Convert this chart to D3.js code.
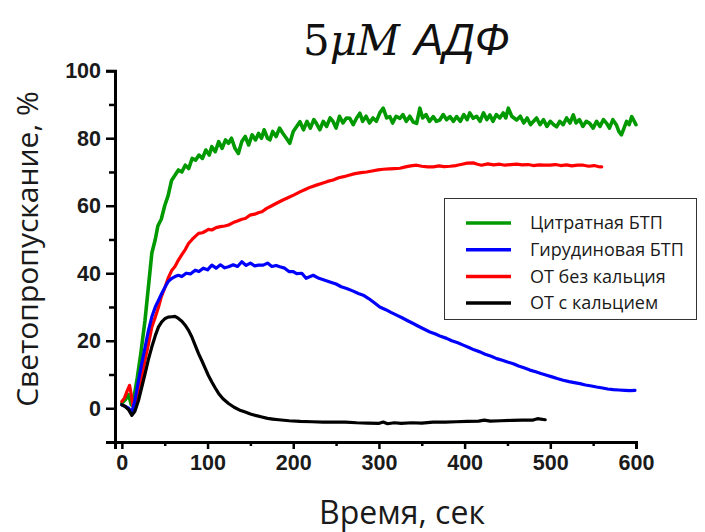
<!DOCTYPE html>
<html>
<head>
<meta charset="utf-8">
<script src="https://cdn.jsdelivr.net/npm/d3@7"></script>
<style>
  html, body { margin: 0; padding: 0; background: #fff; }
  svg { display: block; }
</style>
</head>
<body>
<svg id="chart" width="705" height="532"></svg>
<script>
// Light transmission traces after 5 µM ADP, time in seconds vs transmission in %
const seriesNames = ["Цитратная БТП", "Гирудиновая БТП", "ОТ без кальция", "ОТ с кальцием"];
const seriesColors = ["#009a00", "#0000ff", "#ff0000", "#000000"];

const citrateBTP = [
  [0,1.5],[4,2.5],[8,4],[11,1],[14,3],[18,9],[22,16],[27,26],[31,36],[35,46],[39,50],[42,54],[46,56],[50,60],[54,63],[58,67.5],[62,69],[66,70.6],[70,70],[74,72],[78,71],[82,74],[86,73.5],[90,75],[94,74],[98,76.5],[102,75],[105,77.5],[109,76],[113,79],[117,77],[121,79.5],[124.5,78.5],[128,80],[132,77],[136,75.5],[140,79],[144,80.5],[148,78],[152,81],[156,79.5],[159.5,81.4],[163,80],[166,82.5],[170,80],[172.8,79.5],[176,82],[180,80.5],[184,83],[188,81.4],[192,80],[196,78.5],[200,82],[204,83.5],[207.8,84.9],[212,82.5],[216,85],[220,83],[224,85.5],[227,84.4],[231,82.5],[235,85],[239,83.5],[243,86],[246.6,84.9],[250,83],[254,86.5],[258,84.5],[262,86],[266,85.9],[270,84],[274,86],[277.8,87.4],[281,85],[285,86.5],[289,84.5],[293,86],[297,85],[301,87.5],[305,88.9],[309,86],[312.8,86.4],[316,84.5],[320,86.5],[324.5,85.9],[328,87],[332,85],[336,86.5],[340,84.8],[344,84.4],[347.8,88.9],[351,86],[355,87],[359,85],[363.4,86.4],[367,85],[371,85.4],[375,87],[379,85.5],[383,86.4],[387,85],[390.7,86.4],[395,85],[399,87],[403,85.5],[406,87.5],[410,85.9],[414,86.5],[418,85],[422,87.5],[426,85.5],[429.5,86.9],[433,85],[437,87],[441,86],[445,87.5],[448,86],[451,88.9],[455,86.5],[460.7,85.4],[465,86.5],[469,84.5],[473,86],[477,84],[480,84.9],[484,86],[488,84],[492,85.5],[496,83.5],[500,85],[504,84],[507.4,83.4],[511,85],[515,84],[519,86],[523,84.5],[526.8,86.9],[530,84.5],[534,85.5],[538,83.5],[542,85],[546,84.4],[550,83],[554,85],[558,83.5],[562,85.5],[565.8,84.4],[569,83],[573,85.5],[577,84],[580,82],[583,81],[586,83],[589,85],[592,84],[595,86.4],[598,85],[600,84]
];

const hirudinBTP = [
  [0,1],[4,0.5],[8,0],[11.7,-1.1],[15,2],[19.5,8.3],[23,13],[27.2,18.2],[31,23],[35,27.1],[39,30],[42.8,32],[46.5,34],[50.6,36],[54,37.5],[58.4,38.5],[62,39],[66,39.4],[70,39],[75,40],[80,39.8],[85.6,40.9],[90,40.5],[95,41.5],[100,41],[105,42.4],[110,41.5],[115,42.5],[120,41.6],[124.5,41.9],[130,42.5],[135,42],[140,43.4],[145,42.3],[150,43],[155,42.2],[159.5,42.4],[165,42.4],[170,43],[175,42],[180,42.3],[184.4,41.9],[190,41.5],[195,40.5],[200,40.5],[204,39.9],[210,40],[215,38.5],[223.3,39.4],[230,38.5],[236,38],[242.8,37.4],[250,36.8],[256,36],[262.3,35.5],[270,34.7],[276,34],[281.7,33.5],[288,32.5],[295,31.2],[301,30],[308,29.2],[314,28.4],[320.6,27.6],[327,26.8],[333,26],[340,25.1],[346,24.3],[353,23.4],[359.5,22.6],[366,22],[372,21.3],[379,20.7],[385,20],[392,19.4],[398.4,18.7],[405,18],[411,17.3],[417.9,16.7],[424,16],[431,15.4],[437.4,14.7],[444,14.2],[450,13.7],[456.8,13.2],[463,12.5],[470,11.9],[476.2,11.3],[483,10.8],[489,10.3],[495.7,9.8],[502,9.3],[508,8.8],[515,8.3],[522,7.9],[528,7.6],[534.6,7.3],[541,6.9],[548,6.6],[554,6.3],[561,6],[567,5.7],[573.5,5.5],[580,5.4],[587,5.3],[593,5.2],[598.8,5.3]
];

const prpNoCalcium = [
  [0,2],[3,3],[6,5],[9,6.8],[11,4],[13,0.5],[16,2],[19.5,4.3],[23,9],[27,14.2],[31,19],[35,24.1],[39,27],[42.8,30],[46,33],[50.6,36],[54,38.5],[58.4,40.9],[62,42],[66,43.9],[70,45.5],[74,47],[77.8,48.8],[82,50],[86,51],[89.5,51.8],[94,52],[98,52.5],[101,53],[105,52.8],[110,53.5],[115,53.8],[120,54],[124.5,54.3],[130,55],[135,55.5],[140,56],[144,56.2],[149.4,57.2],[155,57.5],[160,58],[163.4,58.2],[169,59.2],[175,60],[181,60.8],[188,61.7],[195,62.5],[201,63.2],[207.8,64.1],[214,64.8],[220,65.5],[227,66.1],[233,66.6],[240,67.2],[246.6,67.6],[253,68.3],[259,68.6],[266,69.1],[272,69.5],[279,69.8],[285.6,70],[292,70.3],[299,70.6],[305,70.8],[312,70.9],[318,71],[324.5,71.1],[331,71.5],[337,71.8],[344,72],[350,71.7],[357,71.5],[363.4,71.5],[370,71.8],[376,71.6],[383,71.7],[390,71.9],[397,72.3],[403,72.6],[410,72.7],[415,72.3],[419.7,72],[427,72.4],[434,72.1],[441,72.3],[447,72],[454,72.2],[460.7,72.3],[467,72.1],[474,72.2],[480,71.9],[487,72.1],[493,72],[499.6,72],[506,72.2],[512,71.9],[519,72.1],[525,71.8],[532,72],[538.5,72],[545,71.7],[551,71.9],[556,71.6],[560,71.5]
];

const prpWithCalcium = [
  [0,1],[4,0.5],[8,-0.5],[11.7,-2.1],[15,-1],[19.5,2.4],[23,6],[27.2,10.3],[31,14.5],[35,18.2],[39,21.5],[42.8,24.1],[46.5,25.6],[50.6,26.6],[54,27],[58.4,27.1],[62,27.2],[66,26.6],[70,25.8],[73.9,24.6],[78,23],[81.7,21.1],[85.5,18.7],[89.5,16.2],[93.5,14],[97.3,11.8],[101,9.7],[105,7.8],[109,6],[112.9,4.4],[118,2.8],[124.5,1.4],[131,0.3],[137,-0.5],[144,-1.1],[150,-1.7],[157,-2.2],[163.4,-2.6],[170,-3],[176,-3.2],[183,-3.4],[195,-3.7],[208,-3.9],[221.8,-4],[235,-4.1],[248,-4.1],[260.7,-4.1],[274,-4.3],[287,-4.4],[299.6,-4.5],[305,-4.1],[310,-4.6],[318,-4.3],[326,-4.5],[338.5,-4.3],[350,-4.4],[363,-4.1],[377.4,-4.1],[390,-4],[403,-3.9],[416.3,-3.8],[423,-3.5],[430,-3.8],[442,-3.7],[455.2,-3.6],[467,-3.5],[480,-3.5],[485,-3.1],[494,-3.4]
];

const xMajorTicks = [0, 100, 200, 300, 400, 500, 600];
const xMinorTicks = [50, 150, 250, 350, 450, 550];
const yMajorTicks = [0, 20, 40, 60, 80, 100];
const yMinorTicks = [-10, 10, 30, 50, 70, 90];

const svg = d3.select("#chart");

const x = d3.scaleLinear().domain([-8, 600]).range([115, 636]);
const y = d3.scaleLinear().domain([-10, 100]).range([442, 70.7]);

// Curves (drawn first so the axes sit on top)
const line = d3.line().x(d => x(d[0])).y(d => y(d[1]));
const traces = [citrateBTP, prpNoCalcium, hirudinBTP, prpWithCalcium];
const traceColors = [seriesColors[0], seriesColors[2], seriesColors[1], seriesColors[3]];
const traceWidths = [3.6, 3.2, 3.2, 3.2];
svg.append("g").selectAll("path")
  .data(traces)
  .join("path")
  .attr("d", line)
  .attr("fill", "none")
  .attr("stroke", (d, i) => traceColors[i])
  .attr("stroke-width", (d, i) => traceWidths[i])
  .attr("stroke-linejoin", "round")
  .attr("stroke-linecap", "round");

// X axis
const xAxisG = svg.append("g").attr("transform", `translate(0,${y(-10)})`);
xAxisG.call(d3.axisBottom(x).tickValues(xMajorTicks).tickSize(7).tickPadding(6).tickFormat(d3.format("d")));
xAxisG.append("g").call(d3.axisBottom(x).tickValues(xMinorTicks).tickSize(4).tickFormat(""))
  .select(".domain").remove();

// Y axis
const yAxisG = svg.append("g").attr("transform", `translate(${x(-8)},0)`);
yAxisG.call(d3.axisLeft(y).tickValues(yMajorTicks).tickSize(9).tickPadding(5).tickFormat(d3.format("d")));
yAxisG.append("g").call(d3.axisLeft(y).tickValues(yMinorTicks).tickSize(6).tickFormat(""))
  .select(".domain").remove();

svg.selectAll(".domain").attr("stroke", "#000").attr("stroke-width", 3);
svg.selectAll(".tick line").attr("stroke", "#000").attr("stroke-width", 2.5);
svg.selectAll(".tick text")
  .attr("font-family", "'Liberation Sans', Arial, sans-serif")
  .attr("font-weight", "bold")
  .attr("font-size", 21.5)
  .attr("fill", "#1a1a1a");

// Axis titles
svg.append("text")
  .attr("x", 402).attr("y", 524)
  .attr("text-anchor", "middle")
  .attr("font-family", "'Open Sans', sans-serif")
  .attr("font-size", 32)
  .attr("fill", "#1a1a1a")
  .text("Время, сек");

svg.append("text")
  .attr("transform", "translate(38,249) rotate(-90)")
  .attr("text-anchor", "middle")
  .attr("font-family", "'Open Sans', sans-serif")
  .attr("font-size", 30)
  .attr("fill", "#1a1a1a")
  .text("Светопропускание, %");

// Title: "5μM" in serif math style, "АДФ" in italic sans
svg.append("text")
  .attr("x", 303).attr("y", 55)
  .attr("font-size", 42)
  .attr("fill", "#111")
  .call(t => {
    t.append("tspan").attr("font-family", "'DejaVu Serif', serif").text("5");
    t.append("tspan").attr("font-family", "'DejaVu Serif', serif").attr("font-style", "italic").text("μM");
  });
svg.append("text")
  .attr("x", 414).attr("y", 55)
  .attr("font-family", "'Liberation Sans', 'DejaVu Sans', sans-serif")
  .attr("font-style", "italic")
  .attr("font-size", 44)
  .attr("fill", "#111")
  .text("АДФ");

// Legend
const legend = svg.append("g");
legend.append("rect")
  .attr("x", 444.5).attr("y", 198.5)
  .attr("width", 252).attr("height", 121)
  .attr("fill", "#fff")
  .attr("stroke", "#333")
  .attr("stroke-width", 1);
const rows = legend.selectAll("g.row")
  .data(seriesNames)
  .join("g")
  .attr("class", "row")
  .attr("transform", (d, i) => `translate(0,${223 + i * 26.7})`);
rows.append("line")
  .attr("x1", 466).attr("x2", 511)
  .attr("stroke", (d, i) => seriesColors[i])
  .attr("stroke-width", 3.5);
rows.append("text")
  .attr("x", 530).attr("y", 0)
  .attr("dy", "0.35em")
  .attr("font-family", "'Open Sans', sans-serif")
  .attr("font-size", 18)
  .attr("fill", "#1a1a1a")
  .text(d => d);
</script>
</body>
</html>
